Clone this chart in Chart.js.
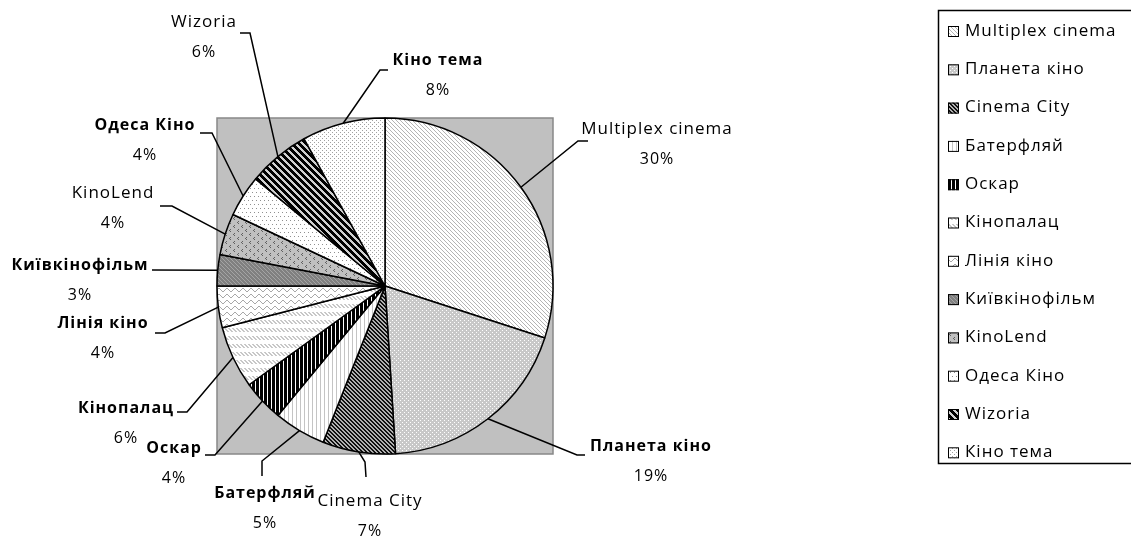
<!DOCTYPE html>
<html lang="uk">
<head>
  <meta charset="UTF-8">
  <title>Кінотеатри</title>
  <script src="https://cdn.jsdelivr.net/npm/chart.js"></script>
  <style>
    body {
      margin: 0;
      background: #fff;
    }
    #wrap {
      width: 1131px;
      height: 537px;
    }
  </style>
</head>
<body>
<div id="wrap">
  <canvas id="pieChart" width="1131" height="537"></canvas>
</div>

<script>
  // дані
  const cinemas = ['Multiplex cinema', 'Планета кіно', 'Cinema City', 'Батерфляй', 'Оскар', 'Кінопалац',
    'Лінія кіно', 'Київкінофільм', 'KinoLend', 'Одеса Кіно', 'Wizoria', 'Кіно тема'];
  const shares = [30, 19, 7, 5, 4, 6, 4, 3, 4, 4, 6, 8];
  const boldLabel = [false, true, false, true, true, true, true, true, false, true, false, true];

  // розміщення підписів: [x тексту, y тексту, x згину, y згину, x кінця]
  const labelPos = [
    [657, 129, 578, 141, 588],
    [651, 446, 577, 455, 585],
    [370, 501, 365, 462, 366],
    [265, 493, 262, 461, 262],
    [174, 448, 215, 455, 205],
    [126, 408, 187, 412, 177],
    [103, 323, 165, 333, 155],
    [80, 265, 152, 270, 152],
    [113, 193, 172, 206, 160],
    [145, 125, 212, 133, 200],
    [204, 22, 250, 33, 240],
    [438, 60, 380, 70, 388]
  ];

  const FONT = '"Open Sans", Lato, sans-serif';

  function tile(w, h, bg, draw) {
    const c = document.createElement('canvas');
    c.width = w;
    c.height = h;
    const x = c.getContext('2d');
    x.fillStyle = bg;
    x.fillRect(0, 0, w, h);
    draw(x, w, h);
    return x.createPattern(c, 'repeat');
  }

  // діагональ "\"
  function diag(n, th, bg, fg) {
    return tile(n, n, bg, function (x) {
      x.fillStyle = fg;
      for (let y = 0; y < n; y++) {
        for (let i = 0; i < n; i++) {
          if (((i - y) % n + n) % n < th) x.fillRect(i, y, 1, 1);
        }
      }
    });
  }

  function vert(n, th, bg, fg) {
    return tile(n, 1, bg, function (x) {
      x.fillStyle = fg;
      x.fillRect(0, 0, th, 1);
    });
  }

  function dots(pts, n, bg, fg) {
    return tile(n, n, bg, function (x) {
      x.fillStyle = fg;
      pts.forEach(p => x.fillRect(p[0], p[1], 1, 1));
    });
  }

  const patterns = [
    diag(4, 1, '#ffffff', '#b4b4b4'),
    dots([[0, 0], [2, 2]], 4, '#c8c8c8', '#ffffff'),
    diag(4, 2, '#101010', '#b0b0b0'),
    vert(4, 1, '#ffffff', '#c4c4c4'),
    vert(4, 3, '#ffffff', '#000000'),
    tile(4, 8, '#ffffff', function (x) {
      x.fillStyle = '#c8c8c8';
      for (let i = 0; i < 4; i++) {
        x.fillRect(i, i, 1, 1);
        x.fillRect((i + 1) % 4, i, 1, 1);
      }
    }),
    tile(8, 6, '#ffffff', function (x) {
      x.fillStyle = '#a8a8a8';
      const ys = [2, 1, 0, 0, 1, 2, 3, 3];
      ys.forEach((y, i) => x.fillRect(i, y, 1, 1));
    }),
    diag(4, 1, '#808080', '#a4a4a4'),
    tile(8, 8, '#c0c0c0', function (x) {
      x.fillStyle = '#606060';
      [[2, 1], [1, 2], [2, 3], [6, 5], [5, 6], [6, 7]].forEach(p => x.fillRect(p[0], p[1], 1, 1));
    }),
    dots([[0, 0], [4, 0], [2, 4], [6, 4]], 8, '#ffffff', '#909090'),
    diag(7, 4, '#d0d0d0', '#000000'),
    dots([[0, 0], [2, 2]], 4, '#ffffff', '#a0a0a0')
  ];

  // сіра площа під діаграмою
  const plotArea = {
    id: 'plotArea',
    beforeDatasetsDraw(chart) {
      const arc = chart.getDatasetMeta(0).data[0];
      const r = arc.outerRadius;
      const ctx = chart.ctx;
      ctx.save();
      ctx.fillStyle = '#c0c0c0';
      ctx.fillRect(arc.x - r, arc.y - r, 2 * r, 2 * r);
      ctx.strokeStyle = '#888888';
      ctx.lineWidth = 1.5;
      ctx.strokeRect(arc.x - r, arc.y - r, 2 * r, 2 * r);
      ctx.restore();
    }
  };

  // підписи з виносками
  const leaderLabels = {
    id: 'leaderLabels',
    afterDatasetsDraw(chart) {
      const ctx = chart.ctx;
      const meta = chart.getDatasetMeta(0);
      const total = shares.reduce((a, b) => a + b, 0);
      ctx.save();
      meta.data.forEach((arc, i) => {
        const mid = (arc.startAngle + arc.endAngle) / 2;
        const sx = arc.x + Math.cos(mid) * arc.outerRadius;
        const sy = arc.y + Math.sin(mid) * arc.outerRadius;
        const p = labelPos[i];
        ctx.strokeStyle = '#000';
        ctx.lineWidth = 1.5;
        ctx.beginPath();
        ctx.moveTo(sx, sy);
        ctx.lineTo(p[2], p[3]);
        if (i === 2 || i === 3) {
          ctx.lineTo(p[4], p[3] + 15);
        } else {
          ctx.lineTo(p[4], p[3]);
        }
        ctx.stroke();

        ctx.fillStyle = '#000';
        ctx.textAlign = 'center';
        ctx.textBaseline = 'middle';
        ctx.letterSpacing = '1px';
        ctx.font = (boldLabel[i] ? 'bold 16px ' : '17px ') + FONT;
        ctx.fillText(cinemas[i], p[0], p[1]);
        ctx.font = '16px ' + FONT;
        ctx.fillText(Math.round(shares[i] / total * 100) + '%', p[0], p[1] + 30);
      });
      ctx.restore();
    }
  };

  // легенда з рамкою
  const boxLegend = {
    id: 'boxLegend',
    afterDraw(chart) {
      const ctx = chart.ctx;
      const items = chart.options.plugins.legend.labels.generateLabels(chart);
      ctx.save();
      ctx.strokeStyle = '#000';
      ctx.lineWidth = 1.5;
      ctx.strokeRect(938.5, 10.5, 200, 453);
      ctx.font = '17px ' + FONT;
      ctx.letterSpacing = '1px';
      ctx.textBaseline = 'middle';
      ctx.textAlign = 'left';
      items.forEach((it, i) => {
        const y = 31 + i * 38.3;
        ctx.fillStyle = it.fillStyle;
        ctx.fillRect(948, y - 5, 11, 11);
        ctx.strokeStyle = '#000';
        ctx.lineWidth = 1;
        ctx.strokeRect(948.5, y - 4.5, 10, 10);
        ctx.fillStyle = '#000';
        ctx.fillText(it.text, 965, y);
      });
      ctx.restore();
    }
  };

  new Chart(document.getElementById('pieChart'), {
    type: 'pie',
    data: {
      labels: cinemas,
      datasets: [{
        data: shares,
        backgroundColor: patterns,
        borderColor: '#000',
        borderWidth: 1.5
      }]
    },
    options: {
      responsive: false,
      animation: false,
      radius: 168,
      layout: {
        padding: { left: 0, right: 361, top: 35, bottom: 0 }
      },
      plugins: {
        legend: { display: false },
        tooltip: { enabled: false }
      }
    },
    plugins: [plotArea, leaderLabels, boxLegend]
  });
</script>
</body>
</html>
